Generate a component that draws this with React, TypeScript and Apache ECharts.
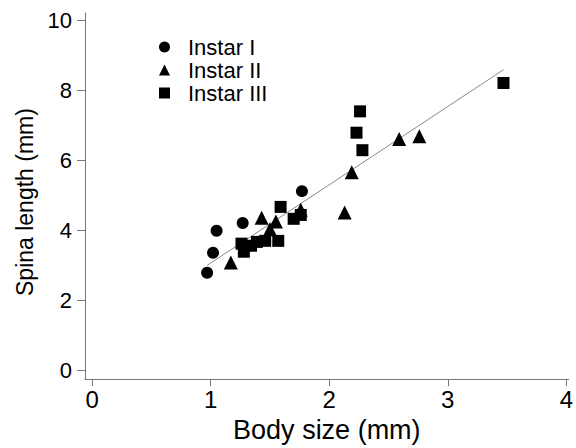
import React, { useEffect, useRef } from "react";
import * as echarts from "echarts";

const instar1X = [0.97, 1.02, 1.05, 1.27, 1.77];
const instar1Y = [2.78, 3.35, 3.98, 4.2, 5.11];

const instar2X = [1.17, 1.43, 1.5, 1.55, 1.76, 2.13, 2.19, 2.59, 2.76];
const instar2Y = [3.07, 4.35, 4.02, 4.24, 4.58, 4.5, 5.65, 6.6, 6.68];

const instar3X = [1.26, 1.28, 1.34, 1.39, 1.46, 1.57, 1.59, 1.7, 1.76, 2.23, 2.26, 2.28, 3.47];
const instar3Y = [3.61, 3.38, 3.55, 3.66, 3.69, 3.69, 4.66, 4.32, 4.43, 6.78, 7.39, 6.28, 8.2];

const fitX = [0.97, 3.47];
const fitIntercept = 0.82;
const fitSlope = 2.236;

const xTicks = [0, 1, 2, 3, 4];
const yTicks = [0, 2, 4, 6, 8, 10];

const seriesNames = ["Instar I", "Instar II", "Instar III"];

const zip = (xs: number[], ys: number[]) => xs.map((x, i) => [x, ys[i]]);

export default function App() {
  const ref = useRef<HTMLDivElement>(null);
  useEffect(() => {
    if (!ref.current) return;
    const chart = echarts.init(ref.current, null, { renderer: "svg" });
    const font = "'Liberation Sans', Arial, Helvetica, sans-serif";
    const mark = { color: "#000", opacity: 1 };
    chart.setOption({
      animation: false,
      backgroundColor: "#ffffff",
      textStyle: { fontFamily: font },
      grid: { left: 85, right: 4, top: 13, bottom: 67 },
      legend: {
        data: seriesNames.map((n) => ({ name: n })),
        orient: "vertical",
        left: 154,
        top: 31,
        itemWidth: 11,
        itemHeight: 11,
        itemGap: 1,
        itemStyle: { opacity: 1 },
        textStyle: { fontSize: 22, color: "#000", fontFamily: font, padding: [0, 0, 0, 13] },
      },
      xAxis: {
        type: "value",
        min: -0.06,
        max: 4.02,
        name: "Body size (mm)",
        nameLocation: "middle",
        nameGap: 32,
        nameTextStyle: { fontSize: 27, color: "#000", fontFamily: font },
        axisLine: { show: true, onZero: false, lineStyle: { color: "#777", width: 1 } },
        axisTick: { show: true, customValues: xTicks, length: 7, lineStyle: { color: "#777" } },
        axisLabel: { customValues: xTicks, fontSize: 24, color: "#000", margin: 8, fontFamily: font },
        splitLine: { show: false },
      },
      yAxis: {
        type: "value",
        min: -0.26,
        max: 10.2,
        name: "Spina length (mm)",
        nameLocation: "middle",
        nameGap: 33,
        nameTextStyle: { fontSize: 23, color: "#000", fontFamily: font, padding: [0, 12, 0, 0] },
        axisLine: { show: true, onZero: false, lineStyle: { color: "#777", width: 1 } },
        axisTick: { show: true, customValues: yTicks, length: 8, lineStyle: { color: "#777" } },
        axisLabel: { customValues: yTicks, fontSize: 22, color: "#000", margin: 13, fontFamily: font },
        splitLine: { show: false },
      },
      series: [
        {
          name: "fit",
          type: "line",
          data: fitX.map((x) => [x, fitIntercept + fitSlope * x]),
          symbol: "none",
          lineStyle: { color: "#888", width: 1 },
          z: 1,
          silent: true,
        },
        {
          name: seriesNames[0],
          type: "scatter",
          symbol: "circle",
          symbolSize: 12,
          itemStyle: mark,
          data: zip(instar1X, instar1Y),
          z: 3,
        },
        {
          name: seriesNames[1],
          type: "scatter",
          symbol: "triangle",
          symbolSize: 14,
          itemStyle: mark,
          data: zip(instar2X, instar2Y),
          z: 3,
        },
        {
          name: seriesNames[2],
          type: "scatter",
          symbol: "rect",
          symbolSize: 12,
          itemStyle: mark,
          data: zip(instar3X, instar3Y),
          z: 3,
        },
      ],
    });
    return () => chart.dispose();
  }, []);
  return <div ref={ref} style={{ width: 576, height: 448, position: "absolute", left: 0, top: 0 }} />;
}
